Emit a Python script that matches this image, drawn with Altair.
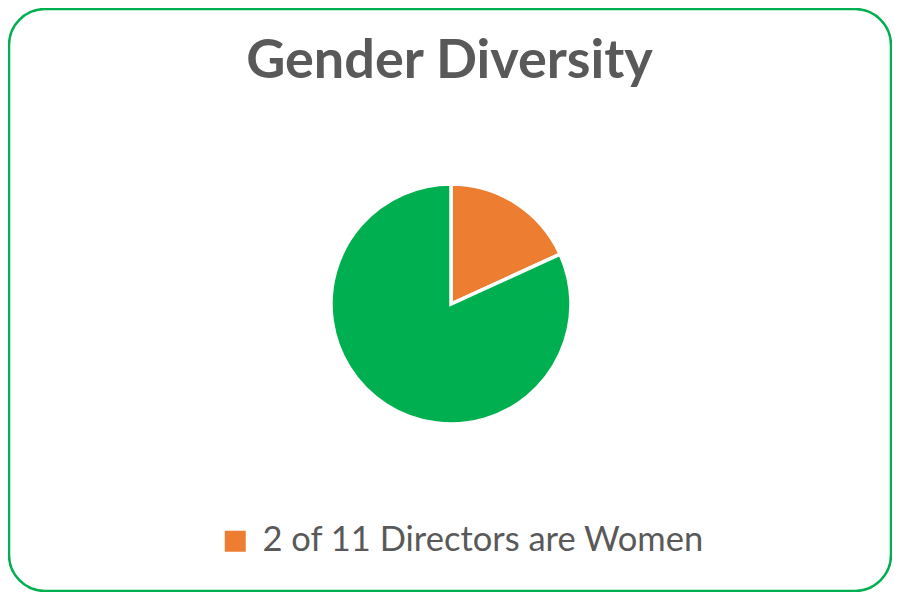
import altair as alt
import pandas as pd

labels = ["2 of 11 Directors are Women", "9 of 11 Directors are Men"]
counts = [2, 9]
order = [0, 1]
colors = ["#ED7D31", "#00B050"]
title_text = "Gender Diversity"

df = pd.DataFrame({"label": labels, "count": counts, "order": order})

W, H = 884, 584
one = alt.Data(values=[{}])

border = alt.Chart(one).mark_rect(
    fill="white", stroke="#00B050", strokeWidth=2.5, cornerRadius=36
).encode(
    x=alt.value(1), x2=alt.value(W - 1), y=alt.value(1), y2=alt.value(H - 1)
)

title = alt.Chart(one).mark_text(
    text=title_text, font="Lato", fontWeight="bold", fontSize=54,
    color="#595959", align="center", baseline="alphabetic"
).encode(x=alt.value(441.5), y=alt.value(70))

pie = alt.Chart(df).mark_arc(radius=120, stroke="white", strokeWidth=3.5).encode(
    theta=alt.Theta("count:Q", stack=True),
    order=alt.Order("order:Q"),
    color=alt.Color(
        "label:N",
        scale=alt.Scale(domain=labels, range=colors),
        legend=alt.Legend(
            values=[labels[0]], orient="none", legendX=210, legendY=516,
            title=None, symbolType="square", symbolSize=441, symbolStrokeWidth=0,
            labelFont="Lato", labelFontSize=34.5, labelColor="#595959",
            labelOffset=10, symbolOpacity=1, labelLimit=0,
        ),
    ),
    x=alt.value(443), y=alt.value(296),
)

chart = alt.layer(border, title, pie).properties(
    width=W, height=H, autosize=alt.AutoSizeParams(type="none"), padding=0
).configure_view(stroke=None)

chart.save("out.html", embed_options={"renderer": "svg", "actions": False})
